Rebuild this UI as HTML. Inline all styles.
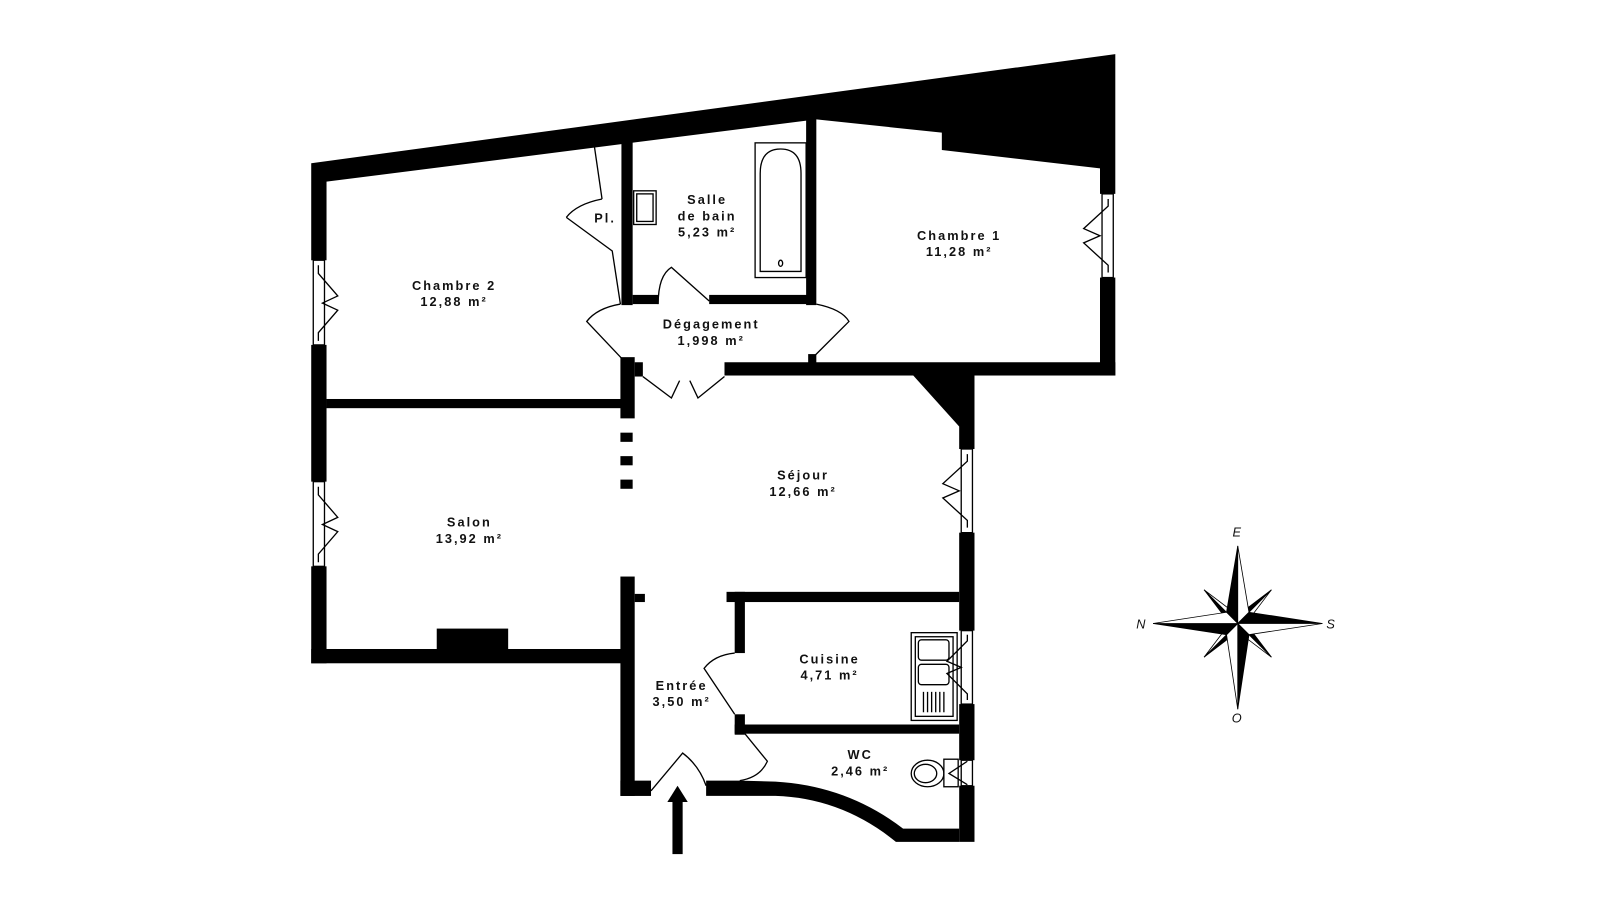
<!DOCTYPE html>
<html><head><meta charset="utf-8"><style>
html,body{margin:0;padding:0;background:#fff;}
svg{display:block;}
text{font-family:"Liberation Sans",sans-serif;font-weight:bold;font-size:12.5px;letter-spacing:2px;fill:#111;text-anchor:middle;}
</style></head><body>
<svg width="1600" height="899" viewBox="0 0 1568 881" preserveAspectRatio="none" xmlns="http://www.w3.org/2000/svg">
<g fill="#000" stroke="none">
<polygon points="305,160 1093,53 1093,190 1078,190 1078,165 923,147 923,130 800,117 320,178 320,255 305,255"/>
<rect x="305" y="338" width="15" height="134"/>
<rect x="305" y="555" width="15" height="95"/>
<rect x="305" y="636" width="305" height="14"/>
<rect x="428" y="616" width="70" height="22"/>
<rect x="320" y="391" width="290" height="9"/>
<rect x="608" y="350" width="14" height="60"/>
<rect x="622" y="355" width="8" height="14"/>
<rect x="608" y="424" width="12" height="9"/>
<rect x="608" y="447" width="12" height="9"/>
<rect x="608" y="470" width="12" height="9"/>
<rect x="608" y="565" width="14" height="215"/>
<rect x="622" y="582" width="10" height="8"/>
<rect x="608" y="765" width="30" height="15"/>
<rect x="609" y="133" width="11" height="166"/>
<rect x="620" y="289" width="25" height="9"/>
<rect x="695" y="289" width="100" height="9"/>
<rect x="790" y="113" width="10" height="186"/>
<rect x="1078" y="272" width="15" height="96"/>
<rect x="710" y="355" width="383" height="13"/>
<rect x="792" y="347" width="8" height="10"/>
<polygon points="895,368 955,368 955,440 940,440 940,418"/>
<rect x="940" y="522" width="15" height="96"/>
<rect x="940" y="690" width="15" height="55"/>
<rect x="940" y="770" width="15" height="55"/>
<rect x="712" y="580" width="228" height="10"/>
<rect x="720" y="580" width="10" height="60"/>
<rect x="720" y="700" width="10" height="20"/>
<rect x="720" y="710" width="220" height="9"/>
<path d="M692,765 L725,765 L760,766 Q830,770 885,812 L940,812 L940,825 L878,825 Q825,782 760,780 L692,780 Z"/>
<rect x="659" y="785" width="10" height="52"/>
<polygon points="654,786 664,770 674,786"/>
</g>
<g fill="none" stroke="#000" stroke-width="1.3">
<polyline points="582,140 590,195"/>
<path d="M590,195 Q565,200 555,213"/>
<polyline points="555,213 600,246 608,298"/>
<rect x="621" y="187" width="22" height="33"/>
<rect x="624" y="190" width="16" height="27"/>
<rect x="740" y="140" width="50" height="132"/>
<path d="M745,266 L745,170 Q745,146 765,146 Q785,146 785,170 L785,266 Z"/>
<ellipse cx="765" cy="258" rx="2" ry="3"/>
<path d="M645,298 Q645,270 658,262 L695,295"/>
<path d="M608,298 Q585,302 575,315 L610,352"/>
<path d="M800,298 Q825,303 832,315 L797,350"/>
<polyline points="630,369 658,390 666,373"/>
<polyline points="710,369 684,390 676,373"/>
<path d="M720,640 Q700,642 690,655 L720,700"/>
<path d="M730,719 L752,746 Q745,762 725,765"/>
<path d="M638,775 L669,738 Q685,750 692,770"/>
<rect x="307" y="255" width="11" height="83"/>
<polyline points="312,260 312,268 331,290 316,297 331,304 312,326 312,334"/>
<rect x="307" y="472" width="11" height="83"/>
<polyline points="312,477 312,485 331,507 316,514 331,521 312,543 312,551"/>
<rect x="1080" y="190" width="11" height="82"/>
<polyline points="1086,195 1086,202 1062,224 1078,231 1062,238 1086,260 1086,267"/>
<rect x="942" y="440" width="11" height="82"/>
<polyline points="948,445 948,452 924,474 940,481 924,488 948,510 948,517"/>
<rect x="942" y="618" width="11" height="72"/>
<polyline points="948,622 948,628 928,648 942,654 928,660 948,680 948,686"/>
<rect x="942" y="745" width="11" height="25"/>
<polyline points="948,746 930,758 948,769"/>
<rect x="893" y="620" width="45" height="86"/>
<rect x="897" y="624" width="37" height="78"/>
<rect x="900" y="627" width="30" height="20" rx="3"/>
<rect x="900" y="651" width="30" height="20" rx="3"/>
<line x1="905" y1="678" x2="905" y2="698"/><line x1="909" y1="678" x2="909" y2="698"/>
<line x1="913" y1="678" x2="913" y2="698"/><line x1="917" y1="678" x2="917" y2="698"/>
<line x1="921" y1="678" x2="921" y2="698"/><line x1="925" y1="678" x2="925" y2="698"/>
<ellipse cx="909" cy="758" rx="16" ry="13"/>
<ellipse cx="907" cy="758" rx="11" ry="9"/>
<rect x="925" y="744" width="14" height="27"/>
</g>
<text x="445" y="284">Chambre 2</text><text x="445" y="300">12,88 m²</text>
<text x="693" y="200">Salle</text><text x="693" y="216">de bain</text><text x="693" y="232">5,23 m²</text>
<text x="593" y="218">Pl.</text>
<text x="940" y="235">Chambre 1</text><text x="940" y="251">11,28 m²</text>
<text x="697" y="322">Dégagement</text><text x="697" y="338">1,998 m²</text>
<text x="787" y="470">Séjour</text><text x="787" y="486">12,66 m²</text>
<text x="460" y="516">Salon</text><text x="460" y="532">13,92 m²</text>
<text x="813" y="650">Cuisine</text><text x="813" y="666">4,71 m²</text>
<text x="668" y="676">Entrée</text><text x="668" y="692">3,50 m²</text>
<text x="843" y="744">WC</text><text x="843" y="760">2,46 m²</text>
<g stroke="#000" stroke-width="0.8">
<polygon points="1213,611 1180,578 1199,603" fill="#000"/>
<polygon points="1213,611 1180,578 1205,597" fill="#fff"/>
<polygon points="1213,611 1246,578 1221,597" fill="#000"/>
<polygon points="1213,611 1246,578 1227,603" fill="#fff"/>
<polygon points="1213,611 1246,644 1227,619" fill="#000"/>
<polygon points="1213,611 1246,644 1221,625" fill="#fff"/>
<polygon points="1213,611 1180,644 1205,625" fill="#000"/>
<polygon points="1213,611 1180,644 1199,619" fill="#fff"/>
<polygon points="1213,535 1202,600 1213,611" fill="#000"/>
<polygon points="1213,535 1224,600 1213,611" fill="#fff"/>
<polygon points="1296,611 1224,600 1213,611" fill="#000"/>
<polygon points="1296,611 1224,622 1213,611" fill="#fff"/>
<polygon points="1213,695 1224,622 1213,611" fill="#000"/>
<polygon points="1213,695 1202,622 1213,611" fill="#fff"/>
<polygon points="1130,611 1202,622 1213,611" fill="#000"/>
<polygon points="1130,611 1202,600 1213,611" fill="#fff"/>
</g>
<g style="font-family:'Liberation Serif',serif;font-style:italic;font-weight:normal;font-size:13px;letter-spacing:0">
<text x="1213" y="526" style="font-weight:normal">E</text>
<text x="1119" y="616" style="font-weight:normal">N</text>
<text x="1305" y="616" style="font-weight:normal">S</text>
<text x="1213" y="708" style="font-weight:normal">O</text>
</g>
</svg>
</body></html>
